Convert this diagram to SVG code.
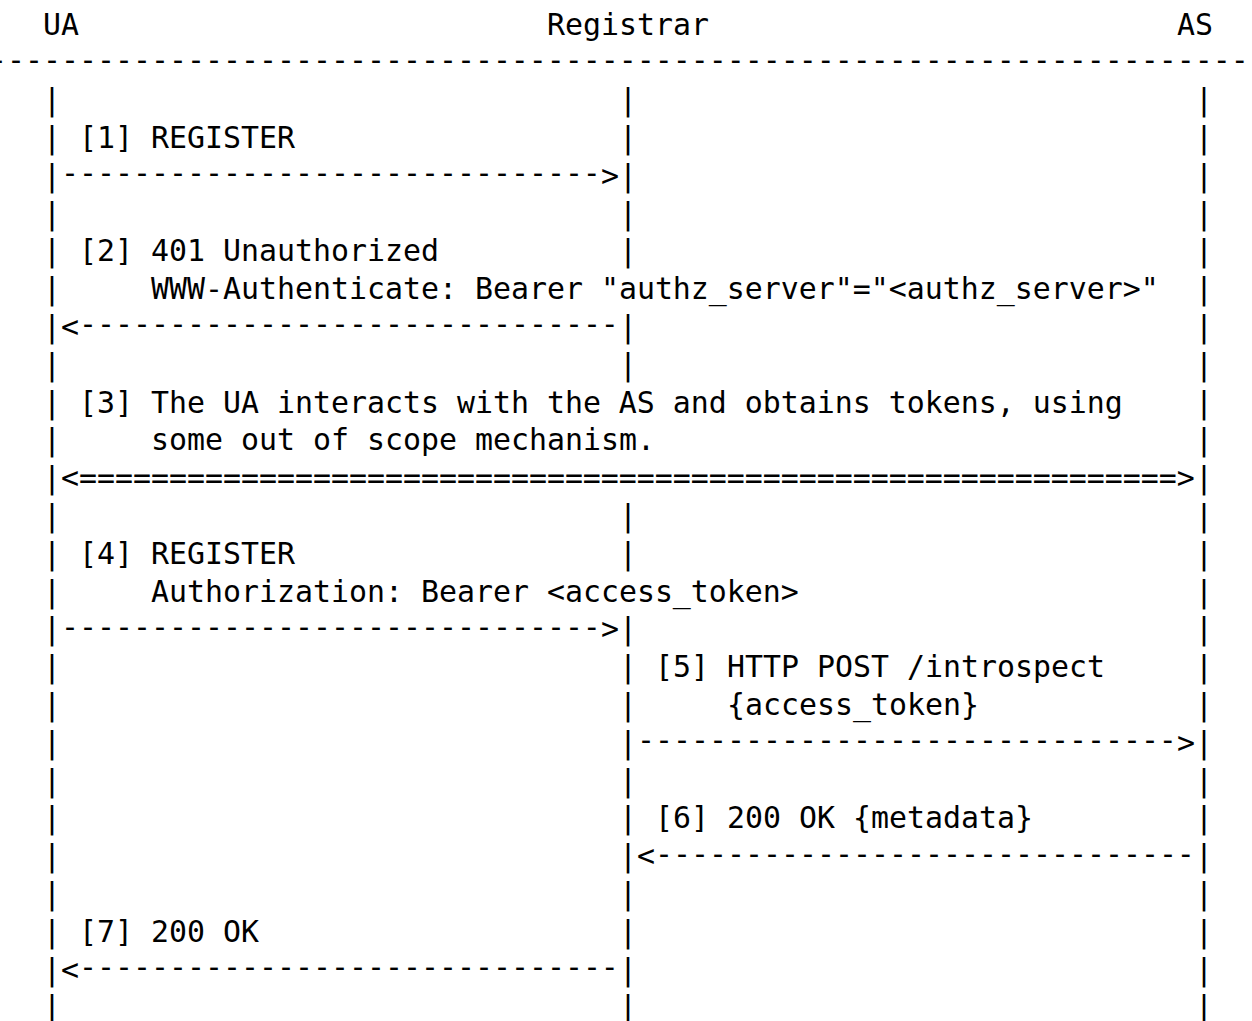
<svg xmlns="http://www.w3.org/2000/svg" width="1252" height="1021" viewBox="0 0 1252 1021">
<style>
.t { font-family: "DejaVu Sans Mono", "Liberation Mono", monospace; font-size: 29.9px; fill: #000; }
</style>
<rect x="0" y="0" width="1252" height="1021" fill="#fff"/>
<g id="header">
<text class="t" x="-11" y="72.3" dy="-2.5">----------------------------------------------------------------------</text>
</g>
<g id="node-ua">
<text class="t" x="43" y="34.5">UA</text>
<text class="t"><tspan x="43" y="110.1">|</tspan><tspan x="43" y="147.9">|</tspan><tspan x="43" y="185.7">|</tspan><tspan x="43" y="223.5">|</tspan><tspan x="43" y="261.3">|</tspan><tspan x="43" y="299.1">|</tspan><tspan x="43" y="336.9">|</tspan><tspan x="43" y="374.7">|</tspan><tspan x="43" y="412.5">|</tspan><tspan x="43" y="450.3">|</tspan><tspan x="43" y="488.1">|</tspan><tspan x="43" y="525.9">|</tspan><tspan x="43" y="563.7">|</tspan><tspan x="43" y="601.5">|</tspan><tspan x="43" y="639.3">|</tspan><tspan x="43" y="677.1">|</tspan><tspan x="43" y="714.9">|</tspan><tspan x="43" y="752.7">|</tspan><tspan x="43" y="790.5">|</tspan><tspan x="43" y="828.3">|</tspan><tspan x="43" y="866.1">|</tspan><tspan x="43" y="903.9">|</tspan><tspan x="43" y="941.7">|</tspan><tspan x="43" y="979.5">|</tspan><tspan x="43" y="1017.3">|</tspan></text>
</g>
<g id="node-registrar">
<text class="t" x="547" y="34.5">Registrar</text>
<text class="t"><tspan x="619" y="110.1">|</tspan><tspan x="619" y="147.9">|</tspan><tspan x="619" y="185.7">|</tspan><tspan x="619" y="223.5">|</tspan><tspan x="619" y="261.3">|</tspan><tspan x="619" y="336.9">|</tspan><tspan x="619" y="374.7">|</tspan><tspan x="619" y="525.9">|</tspan><tspan x="619" y="563.7">|</tspan><tspan x="619" y="639.3">|</tspan><tspan x="619" y="677.1">|</tspan><tspan x="619" y="714.9">|</tspan><tspan x="619" y="752.7">|</tspan><tspan x="619" y="790.5">|</tspan><tspan x="619" y="828.3">|</tspan><tspan x="619" y="866.1">|</tspan><tspan x="619" y="903.9">|</tspan><tspan x="619" y="941.7">|</tspan><tspan x="619" y="979.5">|</tspan><tspan x="619" y="1017.3">|</tspan></text>
</g>
<g id="node-as">
<text class="t" x="1177" y="34.5">AS</text>
<text class="t"><tspan x="1195" y="110.1">|</tspan><tspan x="1195" y="147.9">|</tspan><tspan x="1195" y="185.7">|</tspan><tspan x="1195" y="223.5">|</tspan><tspan x="1195" y="261.3">|</tspan><tspan x="1195" y="299.1">|</tspan><tspan x="1195" y="336.9">|</tspan><tspan x="1195" y="374.7">|</tspan><tspan x="1195" y="412.5">|</tspan><tspan x="1195" y="450.3">|</tspan><tspan x="1195" y="488.1">|</tspan><tspan x="1195" y="525.9">|</tspan><tspan x="1195" y="563.7">|</tspan><tspan x="1195" y="601.5">|</tspan><tspan x="1195" y="639.3">|</tspan><tspan x="1195" y="677.1">|</tspan><tspan x="1195" y="714.9">|</tspan><tspan x="1195" y="752.7">|</tspan><tspan x="1195" y="790.5">|</tspan><tspan x="1195" y="828.3">|</tspan><tspan x="1195" y="866.1">|</tspan><tspan x="1195" y="903.9">|</tspan><tspan x="1195" y="941.7">|</tspan><tspan x="1195" y="979.5">|</tspan><tspan x="1195" y="1017.3">|</tspan></text>
</g>
<g id="connectors">
<g id="msg1">
<text class="t" x="79" y="147.9">[1] REGISTER</text>
<text class="t" x="61" y="185.7"><tspan dy="-2.5">------------------------------</tspan><tspan dy="2.5">&gt;</tspan></text>
</g>
<g id="msg2">
<text class="t" x="79" y="261.3">[2] 401 Unauthorized</text>
<text class="t" x="151" y="299.1">WWW-Authenticate: Bearer "authz_server"="&lt;authz_server&gt;"</text>
<text class="t" x="61" y="336.9">&lt;<tspan dy="-2.5">------------------------------</tspan></text>
</g>
<g id="msg3">
<text class="t" x="79" y="412.5">[3] The UA interacts with the AS and obtains tokens, using</text>
<text class="t" x="151" y="450.3">some out of scope mechanism.</text>
<text class="t" x="61" y="488.1">&lt;=============================================================&gt;</text>
</g>
<g id="msg4">
<text class="t" x="79" y="563.7">[4] REGISTER</text>
<text class="t" x="151" y="601.5">Authorization: Bearer &lt;access_token&gt;</text>
<text class="t" x="61" y="639.3"><tspan dy="-2.5">------------------------------</tspan><tspan dy="2.5">&gt;</tspan></text>
</g>
<g id="msg5">
<text class="t" x="655" y="677.1">[5] HTTP POST /introspect</text>
<text class="t" x="727" y="714.9">{access_token}</text>
<text class="t" x="637" y="752.7"><tspan dy="-2.5">------------------------------</tspan><tspan dy="2.5">&gt;</tspan></text>
</g>
<g id="msg6">
<text class="t" x="655" y="828.3">[6] 200 OK {metadata}</text>
<text class="t" x="637" y="866.1">&lt;<tspan dy="-2.5">------------------------------</tspan></text>
</g>
<g id="msg7">
<text class="t" x="79" y="941.7">[7] 200 OK</text>
<text class="t" x="61" y="979.5">&lt;<tspan dy="-2.5">------------------------------</tspan></text>
</g>
</g>
</svg>
